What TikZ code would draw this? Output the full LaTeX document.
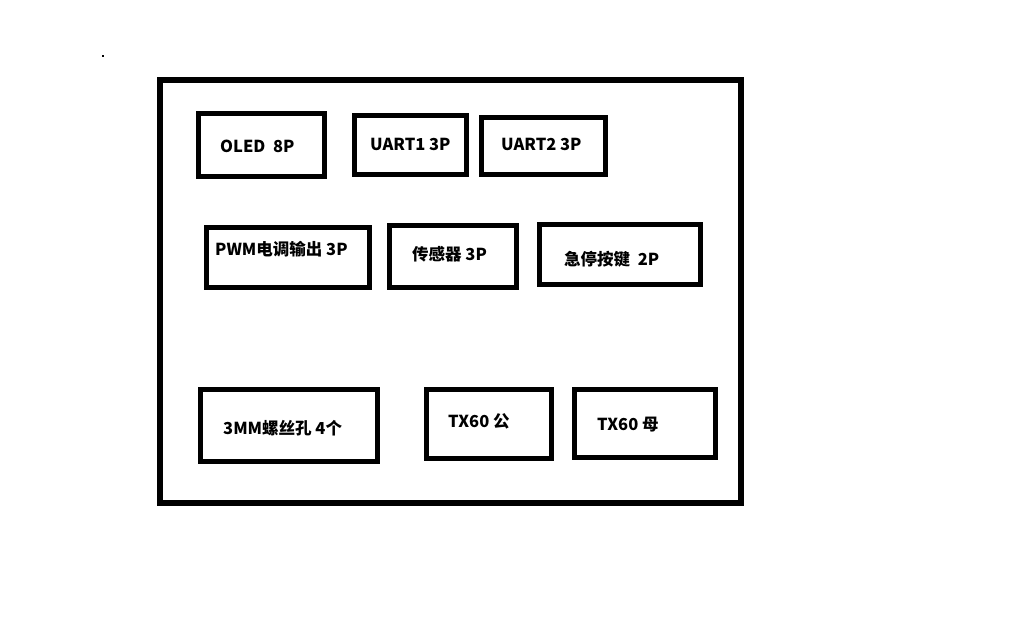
\documentclass[tikz,border=0pt]{standalone}
\usepackage{fontspec}
\setmainfont{Noto Sans CJK SC}
\begin{document}
\begin{tikzpicture}[x=1pt,y=-1pt,
    box/.style={line width=4.6pt},
    lbl/.style={anchor=base west,inner sep=0pt,font=\fontsize{16.5}{19}\selectfont\bfseries}]
    \useasboundingbox (0,0) rectangle (1018,624);
    % Draw board outline
    \draw[line width=6pt] (160,80) rectangle (740.5,503);
    \fill (102,55) rectangle (104,57);
    
    % Top row: display and serial ports
    \draw[box] (198.5,113.5) rectangle (324.5,176.5);
    \draw[box] (354.5,115.5) rectangle (466.5,174.5);
    \draw[box] (481.5,117.5) rectangle (605.5,174.5);
    \node[lbl] (oled) at (220,152) {OLED~~8P};
    \node[lbl] (uartA) at (370,150) {UART1 3P};
    \node[lbl] (uartB) at (501,150) {UART2 3P};
    
    % Middle row: PWM, sensor, stop button
    \draw[box] (206.5,227.5) rectangle (369.5,287.5);
    \draw[box] (389.5,225.5) rectangle (516.5,287.5);
    \draw[box] (539.5,224.5) rectangle (700.5,284.5);
    \node[lbl] (pwm) at (215,255) {PWM电调输出 3P};
    \node[lbl] (sensor) at (412,260) {传感器 3P};
    \node[lbl] (estop) at (564,265) {急停按键~~2P};
    
    % Bottom row: holes and TX60 plugs
    \draw[box] (200.5,389.5) rectangle (377.5,461.5);
    \draw[box] (426.5,389.5) rectangle (551.5,458.5);
    \draw[box] (574.5,389.5) rectangle (715.5,457.5);
    \node[lbl] (holes) at (223,434) {3MM螺丝孔 4个};
    \node[lbl] (txm) at (448,427) {TX60 公};
    \node[lbl] (txf) at (597,430) {TX60 母};
\end{tikzpicture}
\end{document}
